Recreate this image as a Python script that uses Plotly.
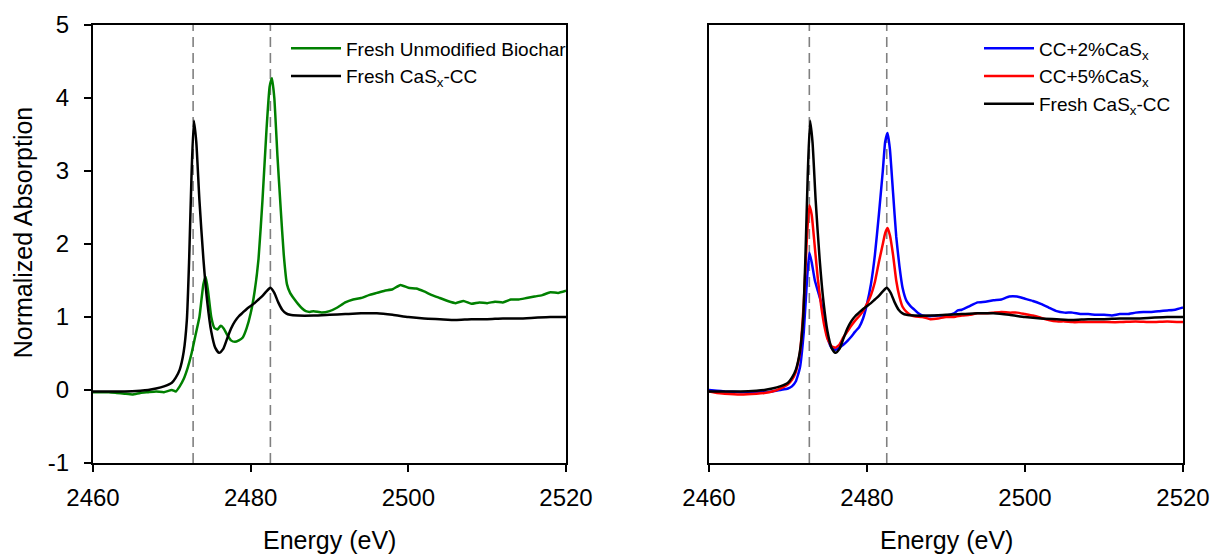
import plotly.graph_objects as go

# Sulfur K-edge XANES spectra (normalized absorption vs. photon energy)

# Fresh CaSx-CC (shown in both panels)
e_cas = [2460, 2462, 2464, 2466, 2467, 2468, 2469, 2470, 2470.5, 2471, 2471.5, 2471.9,
         2472.2, 2472.5, 2472.8, 2473.1, 2473.5, 2474.0, 2474.5, 2475.0, 2475.5, 2476.0,
         2476.5, 2477.0, 2477.5, 2478, 2478.5, 2479, 2479.5, 2480, 2480.5, 2481, 2481.5,
         2482, 2482.5, 2483, 2483.5, 2484, 2484.5, 2485, 2486, 2488, 2490, 2492, 2494,
         2496, 2498, 2500, 2502, 2504, 2506, 2508, 2510, 2512, 2514, 2516, 2518, 2520]
a_cas = [-0.02, -0.02, -0.02, -0.01, 0.0, 0.02, 0.05, 0.1, 0.17, 0.28, 0.52, 0.95,
         1.8, 2.95, 3.69, 3.4, 2.6, 1.8, 1.2, 0.8, 0.58, 0.51,
         0.56, 0.7, 0.84, 0.94, 1.01, 1.06, 1.11, 1.15, 1.19, 1.24, 1.29,
         1.35, 1.40, 1.33, 1.2, 1.1, 1.05, 1.03, 1.02, 1.02, 1.03, 1.04, 1.05,
         1.05, 1.03, 1.0, 0.98, 0.97, 0.96, 0.97, 0.97, 0.98, 0.98, 0.99, 1.0, 1.0]

# Fresh unmodified biochar
e_bc = [2460, 2462, 2463, 2464, 2465, 2466, 2467, 2468, 2469, 2470, 2470.5, 2471, 2471.5,
        2472, 2472.5, 2473, 2473.5, 2474, 2474.3, 2474.6, 2475, 2475.4, 2475.8, 2476.2,
        2476.6, 2477, 2477.5, 2478, 2478.5, 2479, 2479.5, 2480, 2480.5, 2481, 2481.5,
        2482, 2482.4, 2482.7, 2483, 2483.4, 2483.8, 2484.2, 2484.6, 2485, 2485.5, 2486,
        2486.5, 2487, 2487.5, 2488, 2489, 2490, 2491, 2492, 2493, 2494, 2495, 2496, 2497,
        2498, 2499, 2500, 2501, 2502, 2503, 2504, 2505, 2506, 2507, 2508, 2509, 2510,
        2511, 2512, 2513, 2514, 2515, 2516, 2517, 2518, 2519, 2520]
a_bc = [-0.03, -0.03, -0.04, -0.05, -0.06, -0.04, -0.03, -0.02, -0.03, 0.0, -0.02, 0.05, 0.15,
        0.3, 0.5, 0.75, 1.0, 1.45, 1.55, 1.35, 1.0, 0.85, 0.83, 0.88,
        0.84, 0.76, 0.68, 0.66, 0.68, 0.72, 0.85, 1.05, 1.35, 1.8, 2.6,
        3.55, 4.15, 4.27, 4.0, 3.2, 2.5, 1.85, 1.45, 1.33, 1.25, 1.18,
        1.12, 1.08, 1.07, 1.08, 1.06, 1.08, 1.13, 1.2, 1.24, 1.26, 1.3, 1.33, 1.36,
        1.38, 1.44, 1.40, 1.39, 1.35, 1.30, 1.26, 1.22, 1.19, 1.22, 1.18, 1.20, 1.19,
        1.21, 1.20, 1.24, 1.24, 1.26, 1.28, 1.30, 1.34, 1.33, 1.36]

# CC + 2% CaSx
e_2 = [2460, 2461, 2462, 2464, 2466, 2468, 2469, 2470, 2470.5, 2471, 2471.5, 2472, 2472.4,
       2472.7, 2473, 2473.4, 2473.8, 2474.2, 2474.6, 2475, 2475.5, 2476, 2476.5, 2477,
       2477.5, 2478, 2478.5, 2479, 2479.5, 2480, 2480.5, 2481, 2481.5, 2482, 2482.3,
       2482.6, 2482.9, 2483.3, 2483.7, 2484.1, 2484.5, 2485, 2485.5, 2486, 2486.5, 2487,
       2488, 2489, 2490, 2491, 2491.5, 2492, 2493, 2494, 2495, 2496, 2497, 2498, 2499,
       2500, 2501, 2502, 2503, 2504, 2505, 2506, 2507, 2508, 2509, 2510, 2511, 2512,
       2513, 2514, 2515, 2516, 2517, 2518, 2519, 2520]
a_2 = [0.0, -0.01, -0.02, -0.03, -0.03, -0.02, 0.0, 0.02, 0.05, 0.12, 0.3, 0.8, 1.5,
       1.88, 1.75, 1.5, 1.35, 1.2, 0.95, 0.72, 0.58, 0.55, 0.58, 0.62,
       0.67, 0.73, 0.8, 0.86, 0.98, 1.18, 1.45, 1.85, 2.4, 3.0, 3.4,
       3.52, 3.3, 2.7, 2.1, 1.7, 1.4, 1.22, 1.15, 1.1, 1.05, 1.02,
       1.01, 1.02, 1.02, 1.05, 1.09, 1.1, 1.15, 1.2, 1.21, 1.23, 1.24, 1.28, 1.28,
       1.25, 1.22, 1.18, 1.13, 1.08, 1.06, 1.06, 1.04, 1.04, 1.03, 1.03, 1.02, 1.04,
       1.04, 1.06, 1.07, 1.07, 1.08, 1.09, 1.10, 1.13]

# CC + 5% CaSx
e_5 = [2460, 2461, 2462, 2464, 2466, 2467, 2468, 2469, 2470, 2470.5, 2471, 2471.5, 2472,
       2472.4, 2472.7, 2473, 2473.4, 2473.8, 2474.2, 2474.6, 2475, 2475.5, 2476, 2476.5,
       2477, 2477.5, 2478, 2478.5, 2479, 2479.5, 2480, 2480.5, 2481, 2481.5, 2482, 2482.3,
       2482.6, 2482.9, 2483.3, 2483.7, 2484.1, 2484.5, 2485, 2485.5, 2486, 2487, 2488,
       2489, 2490, 2491, 2492, 2493, 2494, 2495, 2496, 2497, 2498, 2499, 2500, 2501, 2502,
       2503, 2504, 2505, 2506, 2507, 2508, 2510, 2512, 2514, 2516, 2518, 2520]
a_5 = [-0.02, -0.04, -0.05, -0.06, -0.05, -0.04, -0.02, 0.02, 0.08, 0.14, 0.25, 0.5, 1.2,
       2.1, 2.53, 2.4, 1.95, 1.5, 1.15, 0.88, 0.7, 0.6, 0.58, 0.62,
       0.72, 0.8, 0.88, 0.95, 1.01, 1.08, 1.18, 1.3, 1.48, 1.75, 2.0, 2.15,
       2.22, 2.12, 1.85, 1.5, 1.28, 1.14, 1.07, 1.03, 1.01, 1.0, 0.97,
       0.98, 1.0, 1.0, 1.02, 1.03, 1.05, 1.05, 1.06, 1.07, 1.06, 1.06, 1.04, 1.02, 0.99,
       0.96, 0.94, 0.94, 0.93, 0.93, 0.93, 0.93, 0.93, 0.94, 0.93, 0.94, 0.93]

# reference energies marked by dashed lines
ref_energies = [2472.7, 2482.5]

x_ticks = [2460, 2480, 2500, 2520]
y_ticks = [-1, 0, 1, 2, 3, 4, 5]
y_tick_text = ["-1", "0", "1", "2", "3", "4", "5"]

FONT = "Liberation Sans, Arial, sans-serif"
W, H = 1213, 554
# plot-area edges in pixels
L, R, T, B = 93, 1183, 24.5, 463
PW, PH = R - L, B - T


def px_x(p):
    return (p - L) / PW


def px_y(p):
    return (B - p) / PH


fig = go.Figure()

fig.add_trace(go.Scatter(x=e_bc, y=a_bc, mode="lines", name="Fresh Unmodified Biochar",
                         line=dict(color="#008000", width=2.5, shape="spline", smoothing=0.4),
                         xaxis="x", yaxis="y", legend="legend"))
fig.add_trace(go.Scatter(x=e_cas, y=a_cas, mode="lines", name="Fresh CaS<sub>x</sub>-CC",
                         line=dict(color="black", width=2.5, shape="spline", smoothing=0.6),
                         xaxis="x", yaxis="y", legend="legend"))

fig.add_trace(go.Scatter(x=e_2, y=a_2, mode="lines", name="CC+2%CaS<sub>x</sub>",
                         line=dict(color="#0000FF", width=2.5, shape="spline", smoothing=0.4),
                         xaxis="x2", yaxis="y2", legend="legend2"))
fig.add_trace(go.Scatter(x=e_5, y=a_5, mode="lines", name="CC+5%CaS<sub>x</sub>",
                         line=dict(color="#FF0000", width=2.5, shape="spline", smoothing=0.4),
                         xaxis="x2", yaxis="y2", legend="legend2"))
fig.add_trace(go.Scatter(x=e_cas, y=a_cas, mode="lines", name="Fresh CaS<sub>x</sub>-CC",
                         line=dict(color="black", width=2.5, shape="spline", smoothing=0.6),
                         xaxis="x2", yaxis="y2", legend="legend2"))

for xr, yr in (("x", "y"), ("x2", "y2")):
    for e in ref_energies:
        fig.add_shape(type="line", xref=xr, yref=yr + " domain", x0=e, x1=e, y0=0, y1=1,
                      line=dict(color="#808080", width=1.6, dash="10px,6px"), layer="below")

axis_common = dict(range=[2460, 2520], tickvals=x_ticks, showline=True, linecolor="black",
                   linewidth=2, mirror=True, ticks="outside", ticklen=7, tickwidth=2,
                   tickcolor="black", showgrid=False, zeroline=False, automargin=False,
                   tickfont=dict(family=FONT, size=24, color="black"), ticklabelstandoff=5)

title_font = dict(family=FONT, size=25, color="black")
annotations = [
    dict(text="Normalized Absorption", textangle=-90, xref="paper", yref="paper",
         x=px_x(23), y=px_y(232), xanchor="center", yanchor="middle",
         showarrow=False, font=title_font),
    dict(text="Energy (eV)", xref="paper", yref="paper", x=px_x(329.5), y=px_y(540),
         xanchor="center", yanchor="middle", showarrow=False, font=title_font),
    dict(text="Energy (eV)", xref="paper", yref="paper", x=px_x(946), y=px_y(540),
         xanchor="center", yanchor="middle", showarrow=False, font=title_font),
]

legend_common = dict(yanchor="top", xanchor="left", bgcolor="rgba(0,0,0,0)",
                     font=dict(family=FONT, size=19, color="black"), itemwidth=50,
                     tracegroupgap=0)

fig.update_layout(
    width=W, height=H,
    margin=dict(l=L, r=W - R, t=T, b=H - B, autoexpand=False),
    paper_bgcolor="white", plot_bgcolor="white",
    font=dict(family=FONT, color="black"),
    xaxis=dict(domain=[0, px_x(566)], anchor="y", **axis_common),
    xaxis2=dict(domain=[px_x(709), 1], anchor="y2", **axis_common),
    yaxis=dict(domain=[0, 1], anchor="x", range=[-1, 5], tickvals=y_ticks,
               ticktext=y_tick_text, showline=True, linecolor="black", linewidth=2,
               mirror=True, ticks="outside", ticklen=7, tickwidth=2, tickcolor="black",
               showgrid=False, zeroline=False, automargin=False,
               tickfont=dict(family=FONT, size=24, color="black"), ticklabelstandoff=10),
    yaxis2=dict(domain=[0, 1], anchor="x2", range=[-1, 5], showline=True, linecolor="black",
                linewidth=2, mirror=True, ticks="", showticklabels=False, showgrid=False,
                zeroline=False, automargin=False),
    legend=dict(x=px_x(286), y=px_y(29), **legend_common),
    legend2=dict(x=px_x(979), y=px_y(29), **legend_common),
    annotations=annotations,
)

fig.write_html("out.html")
